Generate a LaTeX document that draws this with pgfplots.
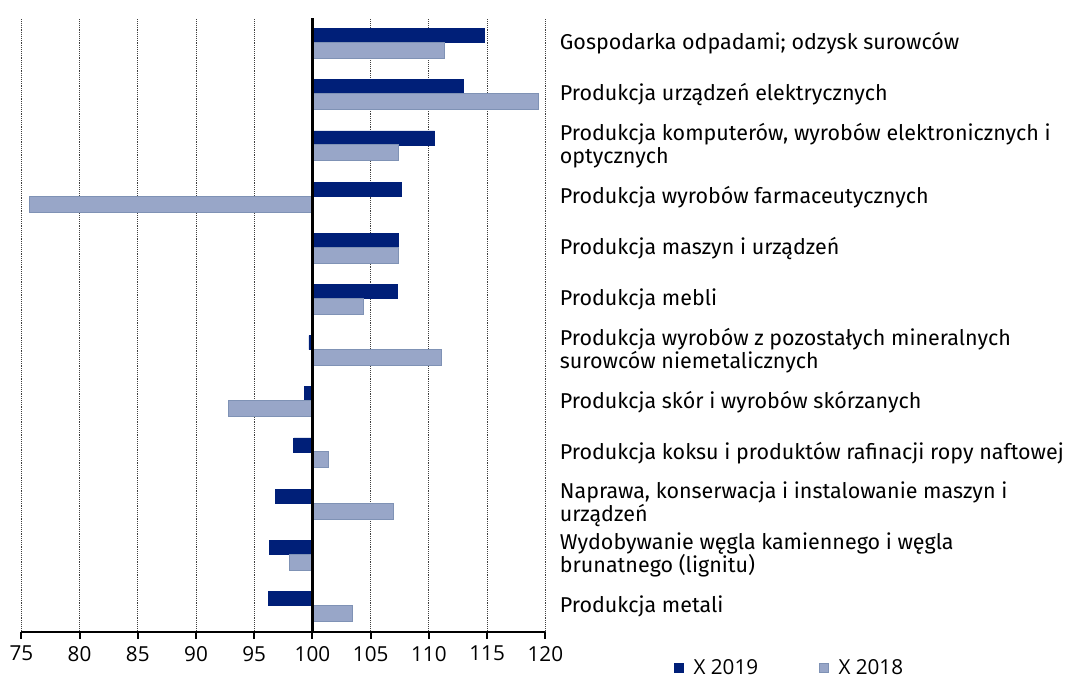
\documentclass[border=0pt]{standalone}
\usepackage{fontspec}
\setmainfont{Fira Sans}
\newfontfamily\tickfont{Open Sans}
\usepackage{pgfplots}
\pgfplotsset{compat=1.18}
\definecolor{c19}{RGB}{0,31,120}
\definecolor{c18}{RGB}{152,166,200}
\definecolor{c18e}{RGB}{127,146,181}

\pgfplotstableread{
y v19 v18
11 114.8 111.3
10 113.0 119.4
9 110.5 107.4
8 107.6 75.7
7 107.4 107.4
6 107.3 104.4
5 99.7 111.1
4 99.3 92.8
3 98.4 101.4
2 96.8 107.0
1 96.3 98.0
0 96.2 103.4
}\datatable

\begin{document}
\begin{tikzpicture}
\useasboundingbox (0,0) rectangle (800.25pt,509.25pt);
\begin{axis}[
  at={(16pt,35.25pt)}, anchor=south west,
  scale only axis, width=393pt, height=460.5pt,
  xmin=-25, xmax=20, ymin=-0.5, ymax=11.5,
  xbar,
  x filter/.expression={x-100},
  xtick={-25,-20,-15,-10,-5,0,5,10,15,20},
  xticklabels={75,80,85,90,95,100,105,110,115,120},
  xticklabel style={font=\tickfont\fontsize{15.5}{18}\selectfont, yshift=-2pt},
  ytick={0,1,2,3,4,5,6,7,8,9,10,11},
  yticklabels={
    {Produkcja metali},
    {Wydobywanie węgla kamiennego i węgla\\brunatnego (lignitu)},
    {Naprawa, konserwacja i instalowanie maszyn i\\urządzeń},
    {Produkcja koksu i produktów rafinacji ropy naftowej},
    {Produkcja skór i wyrobów skórzanych},
    {Produkcja wyrobów z pozostałych mineralnych\\surowców niemetalicznych},
    {Produkcja mebli},
    {Produkcja maszyn i urządzeń},
    {Produkcja wyrobów farmaceutycznych},
    {Produkcja komputerów, wyrobów elektronicznych i\\optycznych},
    {Produkcja urządzeń elektrycznych},
    {Gospodarka odpadami; odzysk surowców}},
  yticklabel style={font=\fontsize{16.1}{17.25}\selectfont, align=left, anchor=west, inner sep=0pt, xshift=5.75pt},
  axis x line*=bottom, axis y line*=right,
  x axis line style={-, black, line width=1.8pt},
  y axis line style={draw=none},
  ytick style={draw=none},
  xtick style={black, line width=1.5pt},
  tick align=outside, major tick length=5pt,
  xmajorgrids,
  major grid style={densely dotted, line width=0.7pt, black!75},
  legend style={at={(1.238,-0.0586)}, anchor=west, draw=none, fill=none,
    font=\tickfont\fontsize{15.5}{18}\selectfont, legend columns=2,
    cells={anchor=west},
    nodes={inner sep=1.5pt},
    /tikz/every odd column/.append style={column sep=6pt},
    /tikz/every even column/.append style={column sep=44pt}},
  legend image code/.code={\draw[#1] (0pt,-3.5pt) rectangle (6.5pt,3.5pt);},
]
\addplot[fill=c19, draw=c19, line width=0.5pt, bar width=10.5pt, bar shift=6pt] table[x=v19, y=y] {\datatable};
\addlegendentry{X 2019}
\addplot[fill=c18, draw=c18e, line width=0.75pt, bar width=12pt, bar shift=-5.25pt] table[x=v18, y=y] {\datatable};
\addlegendentry{X 2018}
\draw[black, line width=1.8pt] (axis cs:0,-0.5) -- (axis cs:0,11.5);
\end{axis}
\end{tikzpicture}
\end{document}
